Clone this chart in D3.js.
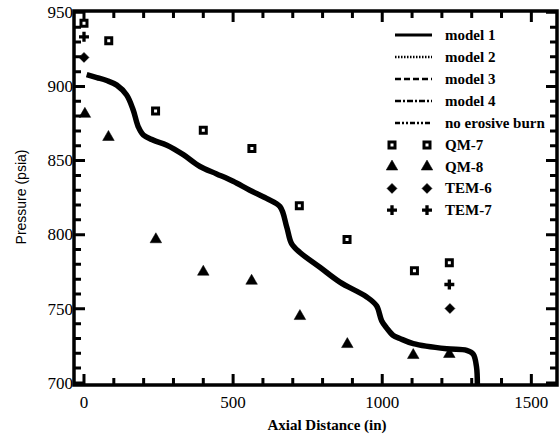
<!DOCTYPE html>
<html>
  <head>
    <title>Pressure vs Axial Distance</title>
    <script src="https://d3js.org/d3.v7.min.js"></script>
    <style>
      body { margin: 0; background: #fff; }
    </style>
  </head>
  <body>
    <div id="chart"></div>
    <script>
// model curve (models overlap into one thick line)
const curveDist = [9, 43, 76, 110, 143, 165, 182, 199, 232, 278, 333, 389, 445, 500, 556, 612, 657, 680, 696, 724, 791, 858, 948, 981, 998, 1015, 1037, 1059, 1104, 1216, 1283, 1305, 1316, 1319];
const curvePress = [908, 906, 904, 900.9, 894.2, 884.1, 872.8, 867.2, 863.8, 860.4, 854, 846, 841, 836, 830, 824.5, 819, 805, 794, 788, 778, 768, 758, 752, 742, 737, 732, 730, 726.5, 723, 722, 719.4, 711, 698.6];

// measured data
const qm7Dist = [0, 83, 240, 400, 563, 722, 882, 1108, 1225];
const qm7Press = [942.6, 930.8, 883.4, 870.4, 858.2, 819.5, 796.8, 775.6, 781];
const qm8Dist = [3, 82, 241, 400, 562, 724, 883, 1104, 1225];
const qm8Press = [881.4, 865.8, 796.8, 774.9, 768.8, 745, 726.1, 718.7, 719.4];
const tem6Dist = [0, 1227];
const tem6Press = [919.6, 750.2];
const tem7Dist = [0, 1225];
const tem7Press = [933.5, 766.4];

const xTicks = [0, 500, 1000, 1500];
const yTicks = [700, 750, 800, 850, 900, 950];
const modelNames = ["model 1", "model 2", "model 3", "model 4", "no erosive burn"];
const dataNames = ["QM-7", "QM-8", "TEM-6", "TEM-7"];

const width = 560;
const height = 435;
const plotLeft = 74, plotRight = 557, plotTop = 11, plotBottom = 385;

const svg = d3.select("#chart").append("svg")
  .attr("width", width)
  .attr("height", height)
  .attr("viewBox", [0, 0, width, height]);

const x = d3.scaleLinear().domain([-33.5, 1586]).range([plotLeft, plotRight]);
const y = d3.scaleLinear().domain([698.6, 950.9]).range([plotBottom, plotTop]);

const serif = "'Liberation Serif', 'Times New Roman', serif";

// frame
svg.append("rect")
  .attr("x", plotLeft).attr("y", plotTop)
  .attr("width", plotRight - plotLeft).attr("height", plotBottom - plotTop)
  .attr("fill", "none").attr("stroke", "#000").attr("stroke-width", 3.5);

// ticks (all pointing inward), one path
const xMinor = d3.range(0, 1600, 100);
const yMinor = d3.range(700, 951, 10);
const tp = d3.path();
xMinor.forEach(v => {
  const len = xTicks.includes(v) ? 11 : 7;
  tp.moveTo(x(v), plotBottom); tp.lineTo(x(v), plotBottom - len);
  tp.moveTo(x(v), plotTop); tp.lineTo(x(v), plotTop + len);
});
yMinor.forEach(v => {
  const len = yTicks.includes(v) ? 11 : 7;
  tp.moveTo(plotLeft, y(v)); tp.lineTo(plotLeft + len, y(v));
  tp.moveTo(plotRight, y(v)); tp.lineTo(plotRight - len, y(v));
});
svg.append("path")
  .attr("d", tp.toString())
  .attr("fill", "none")
  .attr("stroke", "#000")
  .attr("stroke-width", 3);

// tick labels
svg.append("g").selectAll("text")
  .data(xTicks)
  .join("text")
  .attr("x", d => x(d))
  .attr("y", plotBottom + 23)
  .attr("text-anchor", "middle")
  .attr("font-family", serif).attr("font-size", 17)
  .text(d => d3.format("d")(d));

svg.append("g").selectAll("text")
  .data(yTicks)
  .join("text")
  .attr("x", plotLeft - 1)
  .attr("y", d => y(d))
  .attr("dy", "0.34em")
  .attr("text-anchor", "end")
  .attr("font-family", serif).attr("font-size", 17)
  .text(d => d);

// axis titles
svg.append("text")
  .attr("x", 327).attr("y", 430)
  .attr("text-anchor", "middle")
  .attr("font-family", serif).attr("font-size", 15).attr("font-weight", "bold")
  .text("Axial Distance (in)");

svg.append("text")
  .attr("transform", "translate(26,197) rotate(-90)")
  .attr("text-anchor", "middle")
  .attr("font-family", "'Liberation Sans', Arial, sans-serif").attr("font-size", 14)
  .text("Pressure (psia)");

// curve
const curveData = curveDist.map((d, i) => [d, curvePress[i]]);
svg.append("path")
  .datum(curveData)
  .attr("fill", "none")
  .attr("stroke", "#000")
  .attr("stroke-width", 5.5)
  .attr("stroke-linejoin", "round")
  .attr("d", d3.line().curve(d3.curveCatmullRom.alpha(0.5)).x(d => x(d[0])).y(d => y(d[1])));

// markers
const sq = d3.symbol().type(d3.symbolSquare).size(36);
const tri = d3.symbol().type(d3.symbolTriangle).size(58);
const dia = d3.symbol().type(d3.symbolSquare).size(50);
const plus = d3.symbol().type(d3.symbolCross).size(55);

function drawMarkers(xs, ys, sym, open, sw, rot) {
  svg.append("g").selectAll("path")
    .data(xs.map((d, i) => [d, ys[i]]))
    .join("path")
    .attr("transform", d => `translate(${x(d[0])},${y(d[1])}) rotate(${rot})`)
    .attr("d", sym)
    .attr("fill", open ? "#fff" : "#000")
    .attr("stroke", "#000")
    .attr("stroke-width", sw);
}

drawMarkers(qm7Dist, qm7Press, sq, true, 3, 0);
drawMarkers(qm8Dist, qm8Press, tri, false, 0.5, 0);
drawMarkers(tem6Dist, tem6Press, dia, false, 0.5, 45);
drawMarkers(tem7Dist, tem7Press, plus, false, 0, 0);

// legend
const legend = svg.append("g").attr("font-family", serif).attr("font-size", 15).attr("font-weight", "bold");
const dashes = [null, "1.5,1.5", "6,3", "6,2,2,2", "5,2,2,2,2,2"];
modelNames.forEach((name, i) => {
  const ly = 35 + i * 22;
  legend.append("line")
    .attr("x1", 395).attr("x2", 432).attr("y1", ly).attr("y2", ly)
    .attr("stroke", "#000").attr("stroke-width", i === 0 ? 3 : 2.4)
    .attr("stroke-dasharray", dashes[i]);
  legend.append("text").attr("x", 445).attr("y", ly + 5).text(name);
});
const legendSyms = [sq, tri, dia, plus];
dataNames.forEach((name, i) => {
  const ly = 145 + i * 21.7;
  [392, 427].forEach(lx => {
    legend.append("path")
      .attr("transform", `translate(${lx},${ly}) rotate(${i === 2 ? 45 : 0})`)
      .attr("d", legendSyms[i])
      .attr("fill", i === 0 ? "#fff" : "#000")
      .attr("stroke", "#000")
      .attr("stroke-width", i === 0 ? 3 : (i === 3 ? 0 : 0.5));
  });
  legend.append("text").attr("x", 445).attr("y", ly + 5).text(name);
});
    </script>
  </body>
</html>
